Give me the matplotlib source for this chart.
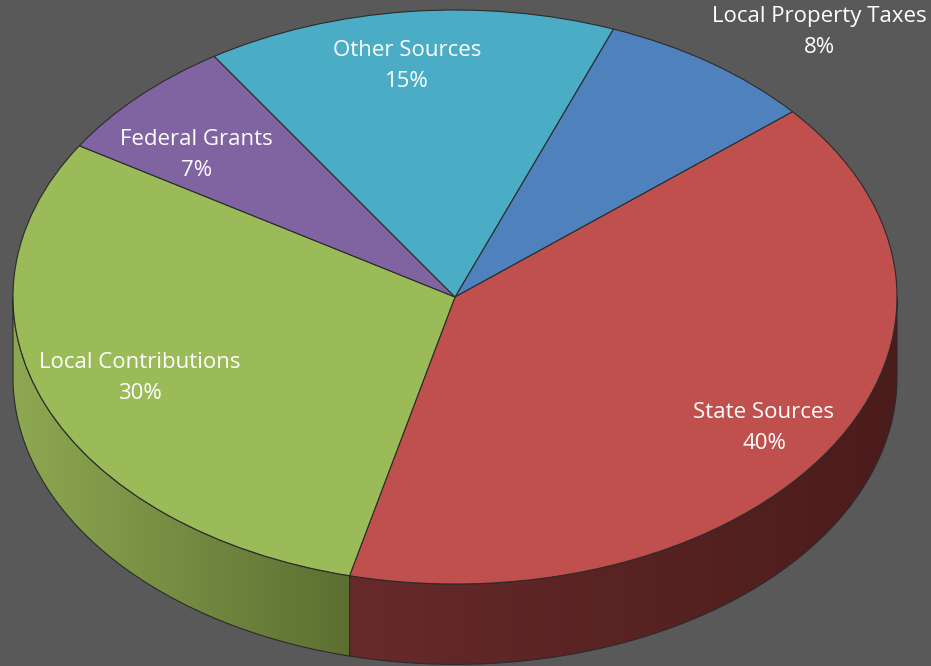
import numpy as np
import matplotlib
matplotlib.use("Agg")
import matplotlib.pyplot as plt
from matplotlib.patches import Polygon
from matplotlib.colors import to_rgb

# data
labels = ["Local Property Taxes", "State Sources", "Local Contributions", "Federal Grants", "Other Sources"]
shares = [8, 40, 30, 7, 15]
top_colors = ["#4F81BD", "#C0504D", "#9BBB59", "#8064A2", "#4BACC6"]
side_colors = [("#3d6394", "#2c4a70"), ("#672a2a", "#4a1c1b"), ("#8ea852", "#5c6f31"),
               ("#634c80", "#48375e"), ("#3a8799", "#2a6373")]
# label positions (data units, pie radius = 1)
label_pos = [(0.824, 0.923), (0.699, -0.456), (-0.713, -0.282), (-0.584, 0.495), (-0.109, 0.805)]

bg = "#595959"
edge = "#2b2b2b"
depth = 0.28
first_angle = 21  # degrees clockwise from 12 o'clock

plt.rcParams["font.family"] = ["Open Sans", "DejaVu Sans"]
fig = plt.figure(figsize=(9.31, 6.66), dpi=100, facecolor=bg)
ax = fig.add_axes([0, 0, 1, 1])
ax.set_facecolor(bg)

# side of the cylinder (front half only)
fracs = np.array(shares) / sum(shares) * 360
starts = first_angle + np.concatenate([[0], np.cumsum(fracs)[:-1]])
for a0, span, (c_light, c_dark) in zip(starts, fracs, side_colors):
    lo = max(a0, 90)
    hi = min(a0 + span, 270)
    if hi <= lo:
        continue
    th = np.radians(np.linspace(lo, hi, 200))
    xs, ys = np.sin(th), np.cos(th)
    pts = np.vstack([np.column_stack([xs, ys]), np.column_stack([xs[::-1], ys[::-1] - depth])])
    poly = Polygon(pts, closed=True, facecolor="none", edgecolor=edge, lw=0.8, zorder=2)
    ax.add_patch(poly)
    # horizontal shading, lighter towards the left
    t = np.linspace(0, 1, 256)
    l_rgb, d_rgb = np.array(to_rgb(c_light)), np.array(to_rgb(c_dark))
    grad = l_rgb[None, :] * (1 - t[:, None]) + d_rgb[None, :] * t[:, None]
    img = ax.imshow(grad[None, :, :], extent=(xs.min(), xs.max(), ys.min() - depth, ys.max()),
                    aspect="auto", zorder=1, interpolation="bilinear")
    img.set_clip_path(Polygon(pts, closed=True, transform=ax.transData))

# top face
wedges, _ = ax.pie(shares, colors=top_colors, startangle=90 - first_angle, counterclock=False,
                   radius=1, wedgeprops=dict(edgecolor=edge, linewidth=0.8))
for w in wedges:
    w.set_zorder(3)

for lab, v, (x, y) in zip(labels, shares, label_pos):
    ax.text(x, y, f"{lab}\n{v}%", ha="center", va="center", color="white",
            fontsize=16, linespacing=1.6, zorder=5)

ax.set_aspect("auto")
ax.set_xlim(-455 / 442, 476 / 442)
ax.set_ylim(-369 / 287, 297 / 287)
ax.axis("off")

plt.savefig("out.png", dpi=100, facecolor=bg)
